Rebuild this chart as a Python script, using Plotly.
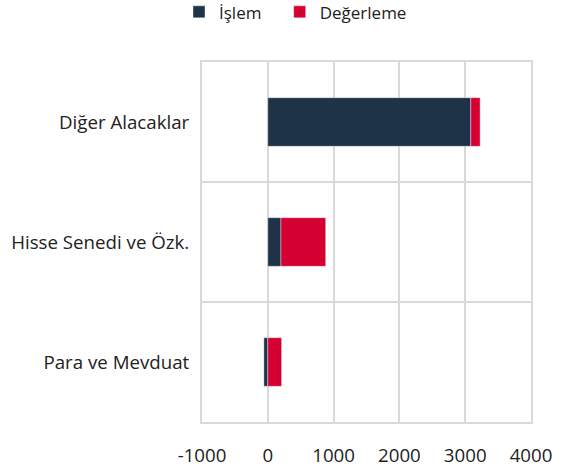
import plotly.graph_objects as go

categories = ["Para ve Mevduat", "Hisse Senedi ve Özk.", "Diğer Alacaklar"]
islem = [-60, 200, 3085]
degerleme = [210, 680, 142]
x_ticks = [-1000, 0, 1000, 2000, 3000, 4000]
series_names = ["İşlem", "Değerleme"]

NAVY = "#1e3248"
RED = "#d50032"
GRID = "#d9d9d9"
FONT = "Open Sans"
PAD = "\u00a0" * 3  # extra spacing after the first legend entry

fig = go.Figure()
fig.add_trace(go.Bar(y=categories, x=islem, orientation="h", name=series_names[0] + PAD,
                     marker=dict(color=NAVY, line=dict(color="rgba(255,255,255,0.4)", width=1))))
fig.add_trace(go.Bar(y=categories, x=degerleme, orientation="h", name=series_names[1],
                     marker=dict(color=RED, line=dict(color="rgba(255,255,255,0.4)", width=1))))

fig.update_layout(
    width=570, height=468,
    barmode="relative",
    bargap=0.595,
    plot_bgcolor="white", paper_bgcolor="white",
    font=dict(family=FONT, size=18.7, color="#222222"),
    margin=dict(l=202, r=39, t=62, b=46, autoexpand=False),
    legend=dict(orientation="h", xref="container", yref="paper",
                x=179 / 570, xanchor="left", y=1.138, yanchor="middle",
                font=dict(size=17, color="#222222"), itemwidth=30, traceorder="normal",
                tracegroupgap=0),
    xaxis=dict(range=[-1000, 4000], tickvals=x_ticks, ticktext=[str(v) for v in x_ticks],
               showgrid=True, gridcolor=GRID, gridwidth=2,
               zeroline=True, zerolinecolor=GRID, zerolinewidth=2,
               showline=True, linecolor=GRID, linewidth=2, mirror=True,
               ticks="", ticklabelstandoff=16, automargin=False),
    yaxis=dict(type="category", categoryorder="array", categoryarray=categories,
               showgrid=True, gridcolor=GRID, gridwidth=2, tickson="boundaries",
               showline=True, linecolor=GRID, linewidth=2, mirror=True,
               ticks="", ticklabelstandoff=7, automargin=False),
)

# remove the browser's default 8px body margin so the figure fills the window exactly
fig.write_html("out.html", config={"displayModeBar": False},
               post_script="document.body.style.margin='0';")
